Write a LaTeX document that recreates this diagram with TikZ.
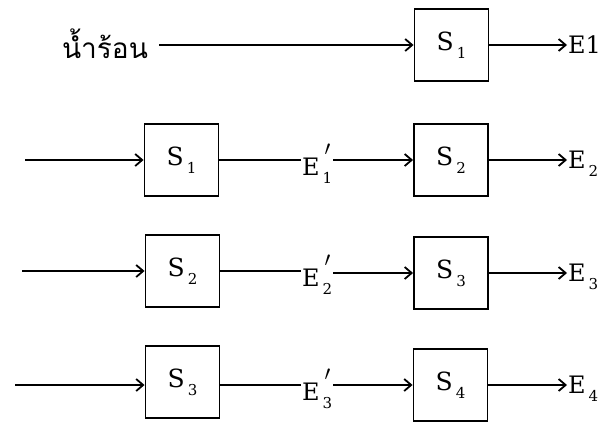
\documentclass[tikz,border=0pt]{standalone}
\usepackage{fontspec}
\setmainfont{DejaVu Serif}
\newfontfamily\thaifont[Script=Thai]{Loma}
\usetikzlibrary{arrows.meta}
% label with a lowered index, and the same with a prime above the index
\newcommand{\lblsub}[2]{#1\kern3pt\raisebox{-8pt}{\fontsize{15}{15}\selectfont #2}}
\newcommand{\lblpr}[2]{#1\kern3pt\rlap{\kern2pt\raisebox{20pt}{\fontsize{22}{22}\selectfont$\prime$}}\raisebox{-8pt}{\fontsize{15}{15}\selectfont #2}}
\begin{document}
\begin{tikzpicture}[x=1pt,y=-1pt,
  blk/.style={draw, line width=1.9pt, minimum width=74pt, minimum height=72pt,
              inner sep=0pt, font=\fontsize{25}{30}\selectfont},
  lbl/.style={inner sep=1pt, font=\fontsize{24}{28}\selectfont},
  flow/.style={line width=1.8pt, -{Straight Barb[length=7pt,width=12pt,line width=1.8pt]}},
  link/.style={line width=1.8pt}]
\useasboundingbox (0,0) rectangle (607,421);

% first stage: hot water into S1
\node[lbl, font=\thaifont\fontsize{28}{32}\selectfont] (hot) at (105,44) {น้ำร้อน};
\node[blk] (a1) at (451.5,45) {\lblsub{S}{1}};
\node[lbl, anchor=west] (e1) at (567,45) {E1};
\draw[flow] ([xshift=10pt]hot.east |- a1.west) -- (a1.west);
\draw[flow] (a1.east) -- (e1.west |- a1.east);

% second stage
\coordinate (in2) at (25,160);
\node[blk] (b1) at (181.5,160) {\lblsub{S}{1}};
\node[lbl, anchor=west] (m1) at (301,164) {\lblpr{E}{1}};
\node[blk] (b2) at (451,160) {\lblsub{S}{2}};
\node[lbl, anchor=west] (e2) at (567,164) {\lblsub{E}{2}};
\draw[flow] (in2) -- (b1.west);
\draw[link] (b1.east) -- (m1.west |- b1.east);
\draw[flow] (m1.east |- b2.west) -- (b2.west);
\draw[flow] (b2.east) -- (e2.west |- b2.east);

% third stage
\coordinate (in3) at (22,271);
\node[blk] (c1) at (182.5,271) {\lblsub{S}{2}};
\node[lbl, anchor=west] (m2) at (301,275) {\lblpr{E}{2}};
\node[blk] (c2) at (451,273) {\lblsub{S}{3}};
\node[lbl, anchor=west] (e3) at (567,277) {\lblsub{E}{3}};
\draw[flow] (in3) -- (c1.west);
\draw[link] (c1.east) -- (m2.west |- c1.east);
\draw[flow] (m2.east |- c2.west) -- (c2.west);
\draw[flow] (c2.east) -- (e3.west |- c2.east);

% fourth stage
\coordinate (in4) at (15,385);
\node[blk] (d1) at (182.5,382) {\lblsub{S}{3}};
\node[lbl, anchor=west] (m3) at (301,389) {\lblpr{E}{3}};
\node[blk] (d2) at (450.5,385) {\lblsub{S}{4}};
\node[lbl, anchor=west] (e4) at (567,389) {\lblsub{E}{4}};
\draw[flow] (in4) -- (in4 -| d1.west);
\draw[link] (d1.east |- in4) -- (m3.west |- in4);
\draw[flow] (m3.east |- d2.west) -- (d2.west);
\draw[flow] (d2.east) -- (e4.west |- d2.east);
\end{tikzpicture}
\end{document}
